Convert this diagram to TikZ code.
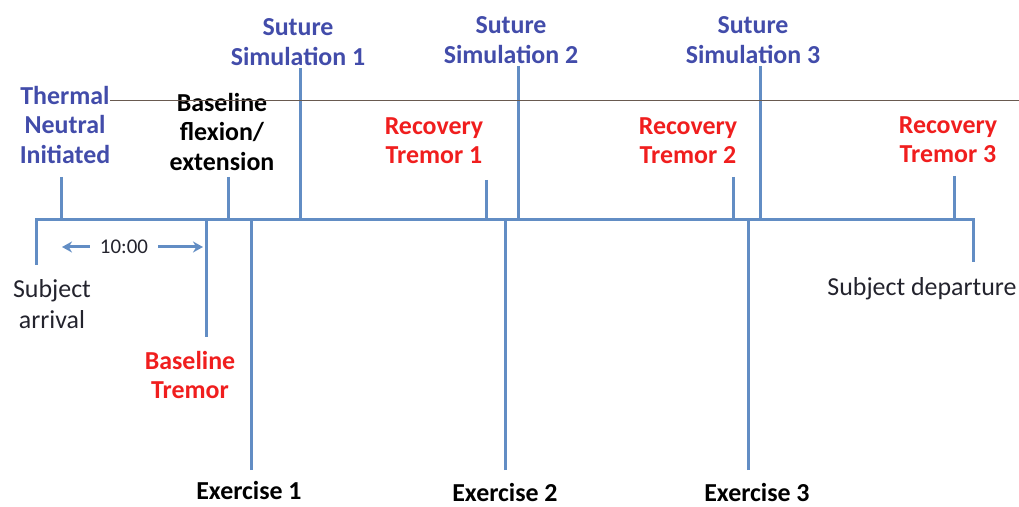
\documentclass[tikz,border=0pt]{standalone}
\usepackage{fontspec}
\setmainfont{Carlito}
\usetikzlibrary{arrows.meta}
\definecolor{lineblue}{RGB}{98,141,196}
\definecolor{textblue}{RGB}{66,76,170}
\definecolor{textred}{RGB}{240,30,30}
\definecolor{textdark}{RGB}{35,35,45}
\definecolor{rulebrown}{RGB}{105,90,80}
\tikzset{
    tickline/.style={line width=3bp, lineblue},
    lbl/.style={font=\fontsize{26}{29.5}\selectfont\bfseries, align=center, inner sep=0pt},
    bluelbl/.style={lbl, text=textblue},
    redlbl/.style={lbl, text=textred},
    blacklbl/.style={lbl, text=black},
    plainlbl/.style={font=\fontsize{26}{31}\selectfont, align=center, inner sep=0pt, text=textdark},
    durarrow/.style={line width=3bp, lineblue, -{Stealth[length=10bp,width=11bp]}}
}
\begin{document}
\begin{tikzpicture}[x=1bp,y=-1bp]
    \useasboundingbox (0,0) rectangle (1019,507);
    \coordinate (tl) at (0,220);
    \coordinate (start) at (36,220);
    \coordinate (end) at (973,220);

    \node[bluelbl] (thermal) at (65,125) {Thermal\\Neutral\\Initiated};
    \node[blacklbl] (flexion) at (222,132) {Baseline\\flexion/\\extension};
    \node[bluelbl] (suture1) at (298,42) {Suture\\Simulation 1};
    \node[bluelbl] (suture2) at (511,40) {Suture\\Simulation 2};
    \node[bluelbl] (suture3) at (753,40) {Suture\\Simulation 3};
    \node[redlbl] (recovery1) at (434,141) {Recovery\\Tremor 1};
    \node[redlbl] (recovery2) at (688,141) {Recovery\\Tremor 2};
    \node[redlbl] (recovery3) at (948,140) {Recovery\\Tremor 3};
    \node[redlbl] (basetremor) at (190,375) {Baseline\\Tremor};
    \node[blacklbl] (exercise1) at (249,491) {Exercise 1};
    \node[blacklbl] (exercise2) at (505,493) {Exercise 2};
    \node[blacklbl] (exercise3) at (757,493) {Exercise 3};
    \node[plainlbl] (arrival) at (52,304) {Subject\\arrival};
    \node[plainlbl] (departure) at (922,289) {Subject departure};

    % tick ends
    \coordinate (thermal-t) at (61,177);
    \coordinate (flexion-t) at (228,177);
    \coordinate (suture1-t) at (300,68);
    \coordinate (suture2-t) at (518,66);
    \coordinate (suture3-t) at (760,66);
    \coordinate (recovery1-t) at (486,180);
    \coordinate (recovery2-t) at (733,177);
    \coordinate (recovery3-t) at (954,176);
    \coordinate (basetremor-t) at (206,337);
    \coordinate (exercise1-t) at (251,470);
    \coordinate (exercise2-t) at (505,470);
    \coordinate (exercise3-t) at (748,470);
    \coordinate (arrival-t) at (36,265);
    \coordinate (departure-t) at (973,262);

    \draw[tickline] (arrival-t) -- (start) -- (end) -- (departure-t);
    \foreach \t in {thermal,flexion,suture1,suture2,suture3,recovery1,recovery2,recovery3,basetremor,exercise1,exercise2,exercise3}
        \draw[tickline] (\t-t) -- (\t-t |- tl);

    \node[plainlbl, font=\fontsize{21}{24}\selectfont, inner xsep=10bp] (dur) at (124,247) {10:00};
    \coordinate (dur-l) at (62,247);
    \coordinate (dur-r) at (203,247);
    \draw[durarrow] (dur) -- (dur-l);
    \draw[durarrow] (dur) -- (dur-r);

    \coordinate (rule-l) at (110,100);
    \coordinate (rule-r) at (1019,100);
    \draw[rulebrown, line width=0.9bp] (rule-l) -- (rule-r);
\end{tikzpicture}
\end{document}
